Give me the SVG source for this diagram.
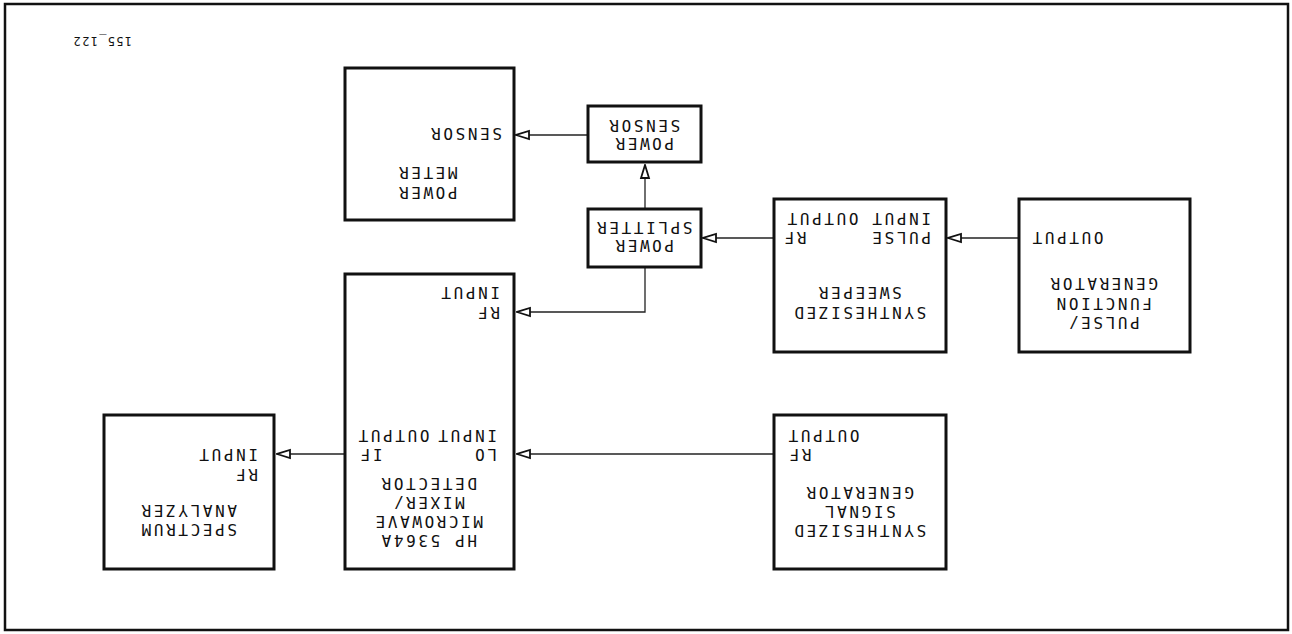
<svg xmlns="http://www.w3.org/2000/svg" width="1292" height="634" viewBox="0 0 1292 634">
<style>
.frame{fill:none;stroke:#111;stroke-width:2.5}
.box{fill:#fff;stroke:#111;stroke-width:3}
.wire{fill:none;stroke:#222;stroke-width:1.3}
text{font-family:"DejaVu Sans Mono","Liberation Mono",monospace;font-size:16px;letter-spacing:2.6px;fill:#111}
.m{text-anchor:middle}
.e{text-anchor:end}
.small{font-size:12px;letter-spacing:1.3px}
</style>
<defs>
<marker id="arr" viewBox="-15 -6 16 12" refX="0" refY="0" markerWidth="16" markerHeight="12" markerUnits="userSpaceOnUse" orient="auto">
<path d="M0,0 L-13,-4 L-13,4 Z" fill="#fff" stroke="#111" stroke-width="1.8" stroke-linejoin="miter"/>
</marker>
</defs>
<rect width="1292" height="634" fill="#fff"/>
<g transform="rotate(180 646 317)">
<rect class="frame" x="4" y="4" width="1283" height="626"/>
<text class="small" x="1160" y="597">155_122</text>

<g id="connectors">
<path class="wire" d="M273 396 H344" marker-end="url(#arr)"/>
<path class="wire" d="M518 396 H589" marker-end="url(#arr)"/>
<path class="wire" d="M647 425 V469" marker-end="url(#arr)"/>
<path class="wire" d="M704 499 H776" marker-end="url(#arr)"/>
<path class="wire" d="M647 367 V322 H775" marker-end="url(#arr)"/>
<path class="wire" d="M518 180 H775" marker-end="url(#arr)"/>
<path class="wire" d="M947 180 H1015" marker-end="url(#arr)"/>
</g>

<g id="pulse-generator">
<rect class="box" x="102" y="282" width="171" height="153"/>
<text class="m" x="189" y="317">PULSE/</text>
<text class="m" x="189" y="336.5">FUNCTION</text>
<text class="m" x="189" y="356">GENERATOR</text>
<text class="e" x="262" y="402">OUTPUT</text>
</g>

<g id="synthesized-sweeper">
<rect class="box" x="346" y="282" width="172" height="153"/>
<text class="m" x="433" y="327">SYNTHESIZED</text>
<text class="m" x="433" y="347">SWEEPER</text>
<text x="361" y="402">PULSE</text>
<text x="361" y="421">INPUT</text>
<text class="e" x="510" y="402">RF</text>
<text class="e" x="507" y="421">OUTPUT</text>
</g>

<g id="power-splitter">
<rect class="box" x="591" y="367" width="113" height="58"/>
<text class="m" x="648.5" y="394">POWER</text>
<text class="m" x="648.5" y="412">SPLITTER</text>
</g>

<g id="power-sensor">
<rect class="box" x="591" y="472" width="113" height="56"/>
<text class="m" x="648.5" y="496">POWER</text>
<text class="m" x="648.5" y="514">SENSOR</text>
</g>

<g id="power-meter">
<rect class="box" x="778" y="414" width="169" height="152"/>
<text class="m" x="865" y="447">POWER</text>
<text class="m" x="865" y="467">METER</text>
<text x="790" y="506">SENSOR</text>
</g>

<g id="mixer-detector">
<rect class="box" x="778" y="65" width="169" height="295"/>
<text class="m" x="864" y="99">HP 5364A</text>
<text class="m" x="864" y="118">MICROWAVE</text>
<text class="m" x="864" y="137">MIXER/</text>
<text class="m" x="864" y="156">DETECTOR</text>
<text x="795" y="185">LO</text>
<text x="795" y="204">INPUT</text>
<text class="e" x="934" y="185">IF</text>
<text class="e" x="936" y="204">OUTPUT</text>
<text x="792" y="327">RF</text>
<text x="792" y="347">INPUT</text>
</g>

<g id="signal-generator">
<rect class="box" x="346" y="65" width="172" height="154"/>
<text class="m" x="433" y="109">SYNTHESIZED</text>
<text class="m" x="433" y="128">SIGNAL</text>
<text class="m" x="433" y="147">GENERATOR</text>
<text class="e" x="505" y="185">RF</text>
<text class="e" x="506" y="204">OUTPUT</text>
</g>

<g id="spectrum-analyzer">
<rect class="box" x="1018" y="65" width="170" height="154"/>
<text class="m" x="1104" y="110">SPECTRUM</text>
<text class="m" x="1104" y="129">ANALYZER</text>
<text x="1034" y="165">RF</text>
<text x="1034" y="185">INPUT</text>
</g>
</g>
</svg>
